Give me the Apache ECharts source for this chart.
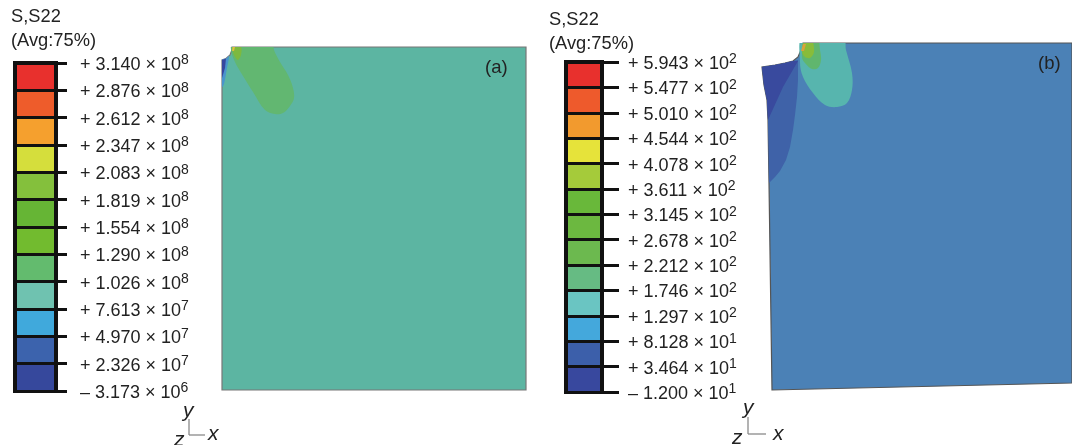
<!DOCTYPE html>
<html><head><meta charset="utf-8">
<style>html,body{margin:0;padding:0;background:#fff}#c{width:1072px;height:445px}</style>
<script src="https://cdn.jsdelivr.net/npm/echarts@6/dist/echarts.min.js"></script>
</head><body><div id="c"></div>
<script>
// Legend tick labels [mantissa text, exponent]
const ticksA = ["+ 3.140 × 10|8","+ 2.876 × 10|8","+ 2.612 × 10|8","+ 2.347 × 10|8","+ 2.083 × 10|8","+ 1.819 × 10|8","+ 1.554 × 10|8","+ 1.290 × 10|8","+ 1.026 × 10|8","+ 7.613 × 10|7","+ 4.970 × 10|7","+ 2.326 × 10|7","– 3.173 × 10|6"];
const ticksB = ["+ 5.943 × 10|2","+ 5.477 × 10|2","+ 5.010 × 10|2","+ 4.544 × 10|2","+ 4.078 × 10|2","+ 3.611 × 10|2","+ 3.145 × 10|2","+ 2.678 × 10|2","+ 2.212 × 10|2","+ 1.746 × 10|2","+ 1.297 × 10|2","+ 8.128 × 10|1","+ 3.464 × 10|1","– 1.200 × 10|1"];
const cellsA = ["#E8302D","#EE5C2B","#F5A02E","#D5DE3C","#84C03C","#66B535","#72BB2F","#63BB6E","#6FC2B0","#40A9DC","#3C63AD","#36489C"];
const cellsB = ["#E8302D","#EE5A2C","#F29A2E","#E6E33A","#A5CB3A","#69B83A","#6CB840","#6CB94F","#66BB83","#6AC5C2","#44A8DC","#3C5FAA","#38489E"];

// Contour regions of panel (a)
const aBody = [[232,47],[526,47],[526,390],[222,390],[222,60],[226,58.5],[230,55],[231.5,51]];
const aLobe = [[233,40],[272,40],[274,50],[280,62],[288,75],[293,88],[294,98],[290,106],[283,113],[275,114],[265,110],[253,92],[243,76],[235,62],[231,50]];
const aLime = [[234,47],[241,47],[241,55],[238,60],[235,57],[233,52]];
const aHot = [[232.5,47],[235,47],[234,51],[232,51]];
const aBlue = [[222,60],[226,58.5],[229,56],[227,68],[224,84],[222,87]];
const aNavy = [[222,60],[226,58.5],[225,68],[222,78]];

// Contour regions of panel (b)
const bBody = [[803,43],[1072,43],[1072,383],[772,390],[769,183],[768,120],[767,100],[764,85],[762,67],[775,65],[785,63],[793,61],[798,57],[801,50]];
const bMid = [[798,60],[798,80],[797,97],[795,115],[793,130],[790,147],[786,160],[780,171],[775,177],[769,183],[768,120],[767,100],[764,85],[762,67],[775,65],[785,63],[793,61]];
const bNavy = [[798,61],[783,87],[768,120],[767,100],[764,85],[762,67],[775,65],[785,63],[793,61]];
const bLobe = [[803,36],[843,36],[846,50],[852,73],[852,90],[847,103],[837,107],[825,105],[813,93],[803,77],[800,62]];
const bGreen = [[805,36],[817,36],[820,50],[821,60],[818,68],[812,69],[805,63],[802,57]];
const bLime = [[805,40],[812,40],[814,52],[810,58],[805,57],[802,52]];
const bHot = [[803,44],[806,44],[804,51],[801,51]];

const titleLines = "S,S22\n(Avg:75%)";

const lab = s => { const [m,e] = s.split('|'); return `{m|${m}}{e|${e}}`; };
const rich = { m:{fontFamily:'Liberation Sans',fontSize:18,color:'#222',height:20,lineHeight:20},
               e:{fontFamily:'Liberation Sans',fontSize:14,color:'#222',height:11,lineHeight:11,verticalAlign:'top'} };

function poly(pts, fill, gi, stroke, smooth){
  return {type:'custom',xAxisIndex:gi,yAxisIndex:gi,coordinateSystem:'cartesian2d',clip:!stroke,silent:true,data:[[pts[0][0],pts[0][1]]],
    renderItem:(p,api)=>({type:'polygon',shape:{points:pts.map(q=>api.coord(q)),smooth:smooth||0},
      style:{fill:fill,stroke:stroke||null,lineWidth:stroke?1.2:0}})};
}
function cells(colors, gi){
  return {type:'custom',xAxisIndex:gi,yAxisIndex:gi,silent:true,clip:false,data:colors.map((c,i)=>[0,i]),
    renderItem:(p,api)=>{const i=p.dataIndex,a=api.coord([0,i]),b=api.coord([1,i+1]);
      return {type:'rect',shape:{x:a[0],y:a[1],width:b[0]-a[0],height:b[1]-a[1]},style:{fill:colors[i]}};}};
}
const legendY = (data,gi,margin,tick)=>({gridIndex:gi,type:'category',data:data,inverse:true,boundaryGap:false,position:'right',z:5,
  axisLine:{show:true,onZero:false,lineStyle:{color:'#111',width:4}},
  axisTick:{show:true,inside:false,alignWithLabel:true,interval:0,length:tick,lineStyle:{color:'#111',width:3}},
  splitLine:{show:true,interval:0,lineStyle:{color:'#111',width:3}},
  axisLabel:{margin:margin,interval:0,padding:[4,0,0,0],formatter:lab,rich:rich,showMinLabel:true,showMaxLabel:true,align:'left'}});
const hiddenX=(gi,min,max)=>({gridIndex:gi,type:'value',min:min,max:max,show:false});
const hiddenY=(gi,min,max)=>({gridIndex:gi,type:'value',min:min,max:max,inverse:true,show:false});
const lineEl=(x1,y1,x2,y2)=>({type:'line',z:100,shape:{x1,y1,x2,y2},style:{stroke:'#8a8a8a',lineWidth:1.3}});
const txt=(x,y,t,size,italic)=>({type:'text',z:100,x,y,style:{text:t,fill:'#222',fontFamily:'Liberation Sans',fontSize:size,fontStyle:italic?'italic':'normal',lineHeight:24,align:'left',verticalAlign:'top'}});

const option={animation:false,backgroundColor:'#fff',
 grid:[{left:222,top:47,width:304,height:343,show:false},
       {left:762,top:43,width:310,height:347,show:false},
       {left:15,top:63,width:41,height:328,show:true,borderColor:'#111',borderWidth:4,backgroundColor:'transparent'},
       {left:566,top:62,width:36,height:330,show:true,borderColor:'#111',borderWidth:4,backgroundColor:'transparent'}],
 xAxis:[hiddenX(0,222,526),hiddenX(1,762,1072),hiddenX(2,-0.054,1.054),hiddenX(3,-0.0625,1.0625)],
 yAxis:[hiddenY(0,47,390),hiddenY(1,43,390),legendY(ticksA,2,24,11),legendY(ticksB,3,26,17)],
 series:[
  poly(aBody,'#5CB5A2',0,'#777'),
  poly(aLobe,'#62B771',0,null,0.35),
  poly(aLime,'#7DB93F',0,null,0.3),
  poly(aHot,'#E0BE3A',0),
  poly(aBlue,'#4A94CC',0,null,0.3),
  poly(aNavy,'#38479E',0),
  poly(bBody,'#4B81B6',1,'#555'),
  poly(bMid,'#3F62A8',1),
  poly(bNavy,'#394A9E',1),
  poly(bLobe,'#57B5AE',1,null,0.35),
  poly(bGreen,'#60B66E',1,null,0.35),
  poly(bLime,'#88BC3A',1,null,0.3),
  poly(bHot,'#D9A33A',1),
  cells(cellsA,2),
  cells(cellsB,3)
 ],
 graphic:{elements:[
  txt(11,5,titleLines,18.3),
  txt(549,8,titleLines,18.3),
  txt(485,56,'(a)',18.5),
  txt(1038,52,'(b)',18.5),
  lineEl(189,419,189,435),lineEl(189,435,205,435),
  txt(183,399,'y',21,true),txt(208,422,'x',21,true),txt(174,428,'z',21,true),
  lineEl(748,417,748,434),lineEl(748,434,766,434),
  txt(743,396,'y',21,true),txt(773,422,'x',21,true),txt(732,426,'z',21,true)
 ]}
};
echarts.init(document.getElementById('c')).setOption(option);
</script></body></html>
